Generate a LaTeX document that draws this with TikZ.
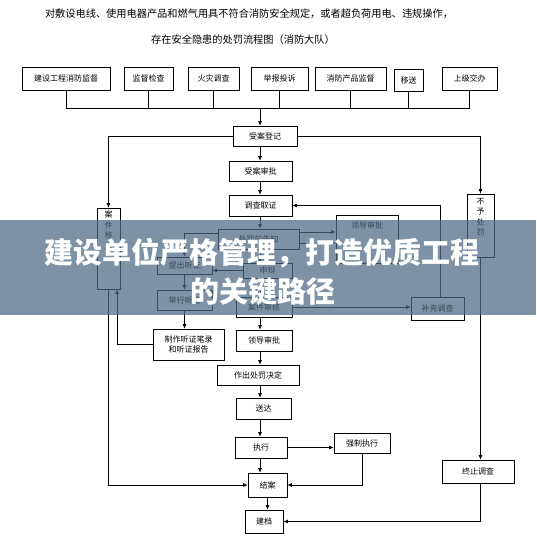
\documentclass[tikz,border=0pt]{standalone}
\usepackage{fontspec}
\newfontfamily\cjk{Noto Sans CJK SC}
\usetikzlibrary{arrows.meta}
\newcommand\mybox[6]{\node[box, minimum width={#4pt-#2pt}, minimum height={#5pt-#3pt}] (#1) at ({(#2+#4)/2},{(#3+#5)/2}) {#6};}
\begin{document}
\begin{tikzpicture}[x=1pt,y=-1pt,
  box/.style={draw, line width=0.7pt, inner sep=0pt, font=\cjk\fontsize{8}{10}\selectfont, align=center},
  vtext/.style={inner sep=0pt, anchor=north, font=\cjk\fontsize{8}{10.5}\selectfont, align=center},
  ln/.style={line width=0.7pt},
  arr/.style={line width=0.7pt, -{Latex[length=4.5pt,width=4pt]}},
  ttl/.style={font=\cjk\fontsize{10.2}{12}\selectfont},
  bandtxt/.style={text=white, font=\cjk\bfseries\fontsize{29}{32}\selectfont, inner sep=0pt}]
\useasboundingbox (0,0) rectangle (536,537);
\fill[white] (0,0) rectangle (536,537);
% titles
\node[ttl] (ti1) at (249,14) {对敷设电线、使用电器产品和燃气用具不符合消防安全规定，或者超负荷用电、违规操作，};
\node[ttl] (ti2) at (243,40) {存在安全隐患的处罚流程图（消防大队）};
% top row
\mybox{t1}{22}{67}{110}{90}{建设工程消防监督}
\mybox{t2}{124}{67}{173}{90}{监督检查}
\mybox{t3}{188}{67}{239}{90}{火灾调查}
\mybox{t4}{251}{67}{308}{90}{举报投诉}
\mybox{t5}{315}{67}{386}{90}{消防产品监督}
\mybox{t6}{394}{69}{423}{91}{移送}
\mybox{t7}{442}{67}{497}{90}{上级交办}
\coordinate (bus) at (0,108);
\coordinate (busm) at (260,108);
\draw[ln] (t1.south) |- (t7.south |- bus) -- (t7.south);
\foreach \t in {t2,t3,t4,t5,t6} \draw[ln] (\t.south) -- (\t.south |- bus);
% main column
\coordinate (mx) at (260,0);
\mybox{sadj}{233}{126}{297}{146}{受案登记}
\mybox{sasp}{229}{161}{292}{181}{受案审批}
\mybox{dcqz}{229}{195}{292}{216}{调查取证}
\mybox{gz}{218}{229}{299}{249}{处罚前告知}
\mybox{sb}{243}{263}{292}{278}{申辩}
\mybox{ajsh}{236}{297}{292}{317}{案件审核}
\mybox{ldsp}{236}{330}{292}{351}{领导审批}
\mybox{zccf}{217}{365}{299}{385}{作出处罚决定}
\mybox{sd}{236}{398}{291}{419}{送达}
\mybox{zx}{235}{437}{287}{458}{执行}
\mybox{ja}{248}{473}{287}{497}{结案}
\mybox{jd}{245}{510}{283}{533}{建档}
\draw[arr] (busm) -- (busm |- sadj.north);
\draw[arr] (sadj.south -| mx) -- (sasp.north -| mx);
\draw[arr] (sasp.south -| mx) -- (dcqz.north -| mx);
\draw[arr] (dcqz.south -| mx) -- (gz.north -| mx);
\draw[arr] (gz.south -| mx) -- (sb.north -| mx);
\draw[arr] (sb.south -| mx) -- (ajsh.north -| mx);
\draw[arr] (ajsh.south -| mx) -- (ldsp.north -| mx);
\draw[arr] (ldsp.south -| mx) -- (zccf.north -| mx);
\draw[arr] (zccf.south -| mx) -- (sd.north -| mx);
\draw[arr] (sd.south -| mx) -- (zx.north -| mx);
\draw[arr] (zx.south -| mx) -- (ja.north -| mx);
\draw[arr] (ja.south) -- (ja.south |- jd.north);
% left side
\node[box, minimum width=23pt, minimum height=81pt] (ajys) at (108.5,248.5) {};
\node[vtext] (ajyst) at (108.5,211) {案\\件\\移\\送};
\mybox{tcts}{157}{257}{212}{274}{提出听证}
\mybox{jxtz}{157}{290}{212}{310}{举行听证}
\mybox{tzbg}{153}{329}{224}{360}{制作听证笔录\\和听证报告}
\draw[arr] (sadj.west) -| (ajys.north);
\draw[arr] (ajys.south) |- (ja.west);
\draw[arr] (tzbg.west) -| ([xshift=8.5pt]ajys.south);
\draw[arr] ([yshift=6pt]gz.west) -| (tcts.north);
\draw[arr] (tcts.south) -- (jxtz.north);
\draw[arr] (jxtz.south) -- (jxtz.south |- tzbg.north);
\draw[arr] (sb.west) -- (sb.west -| tcts.east);
% right side
\node[box, minimum width=62pt, minimum height=48pt] (ldsp2) at (367,239) {};
\node[vtext] (ldsp2t) at (367,222) {领导审批};
\mybox{bccd}{411}{297}{464}{320}{补充调查}
\node[box, minimum width=27pt, minimum height=63pt] (bycf) at (480.5,225.5) {};
\node[vtext] (bycft) at (480.5,198) {不\\予\\处\\罚};
\mybox{zzdc}{442}{460}{514}{483}{终止调查}
\mybox{qzzx}{334}{433}{390}{453}{强制执行}
\draw[arr] (sadj.east) -| (bycf.north);
\draw[arr] (bycf.south) -- (bycf.south |- zzdc.north);
\draw[arr] (bycf.south |- zzdc.south) |- (jd.east);
\draw[arr] (bccd.north -| 440,0) |- (dcqz.east);
\draw[arr] (ajsh.east) -- (ajsh.east -| bccd.west);
\draw[arr] (zx.east) -- (zx.east -| qzzx.west);
\draw[arr] (qzzx.south) |- (ja.east);
\draw[arr] ([yshift=7pt]gz.east) -- ([yshift=7pt]gz.east -| ldsp2.west);
\draw[arr] ([yshift=-4pt]gz.east) -- ([yshift=-4pt]gz.east -| ldsp2.west);
% overlay band
\fill[fill={rgb,255:red,76;green,104;blue,132}, fill opacity=0.72] (0,220) rectangle (536,315);
\node[bandtxt] (bt1) at (262,253) {建设单位严格管理，打造优质工程};
\node[bandtxt] (bt2) at (263,292) {的关键路径};
\end{tikzpicture}
\end{document}
